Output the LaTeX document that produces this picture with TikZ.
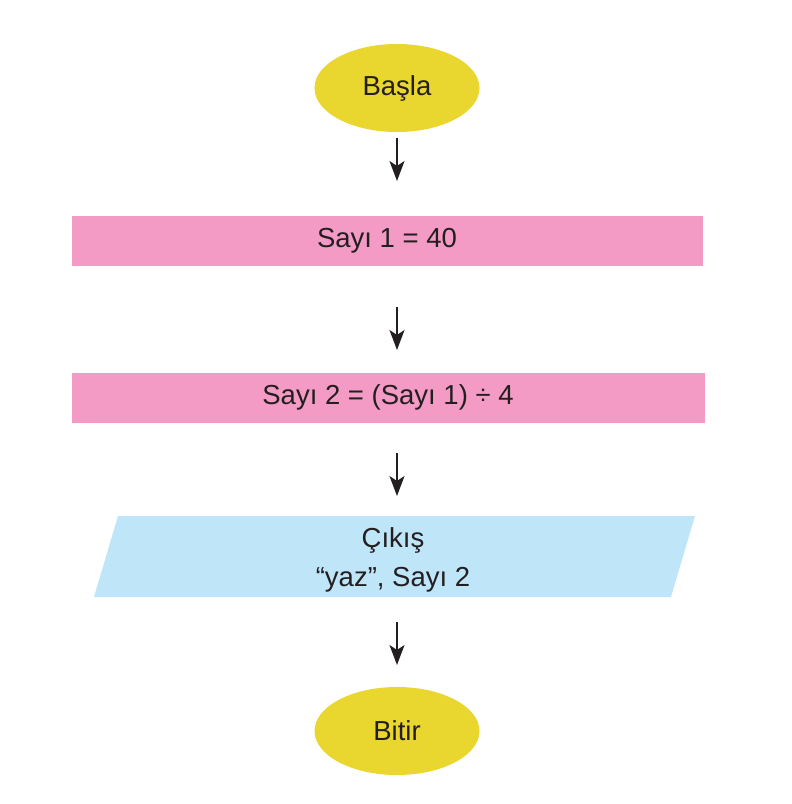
\documentclass[tikz,border=0pt]{standalone}
\usepackage{fontspec}
\setmainfont{Liberation Sans}
\usetikzlibrary{shapes.geometric,arrows.meta}
\definecolor{ovalyellow}{RGB}{233,214,46}
\definecolor{boxpink}{RGB}{243,155,196}
\definecolor{ioblue}{RGB}{190,229,248}
\definecolor{inkdark}{RGB}{35,31,32}
\tikzset{
  oval/.style={ellipse, fill=ovalyellow, minimum width=165pt, minimum height=88pt, inner sep=0pt, text=inkdark, font=\fontsize{27.5}{33}\selectfont},
  procbox/.style={rectangle, fill=boxpink, minimum width=631pt, minimum height=50pt, inner sep=0pt, text=inkdark, font=\fontsize{27.5}{33}\selectfont},
  iotext/.style={align=center, text=inkdark, font=\fontsize{27.5}{39}\selectfont, inner sep=0pt},
  arr/.style={draw=inkdark, line width=2pt, -{Stealth[length=20pt,width=15pt,inset=5pt]}}
}
\begin{document}
\begin{tikzpicture}[x=1pt,y=-1pt]
\useasboundingbox (0,0) rectangle (792,804);
\node[oval] (start) at (397,88) {Başla};
\node[procbox] (r1) at (387,241) {Sayı 1 = 40};
\node[procbox, minimum width=633pt] (r2) at (388,397.5) {Sayı 2 = (Sayı 1) ÷ 4};
\fill[ioblue] (118,516) -- (695,516) -- (671,597) -- (94,597) -- cycle;
\node[iotext] (out) at (393,560) {Çıkış\\“yaz”, Sayı 2};
\node[oval] (stop) at (397,731) {Bitir};
\coordinate (a1s) at (397,138); \coordinate (a1e) at (397,181);
\coordinate (a2s) at (397,307); \coordinate (a2e) at (397,350);
\coordinate (a3s) at (397,453); \coordinate (a3e) at (397,496);
\coordinate (a4s) at (397,622); \coordinate (a4e) at (397,665);
\draw[arr] (a1s) -- (a1e);
\draw[arr] (a2s) -- (a2e);
\draw[arr] (a3s) -- (a3e);
\draw[arr] (a4s) -- (a4e);
\end{tikzpicture}
\end{document}
